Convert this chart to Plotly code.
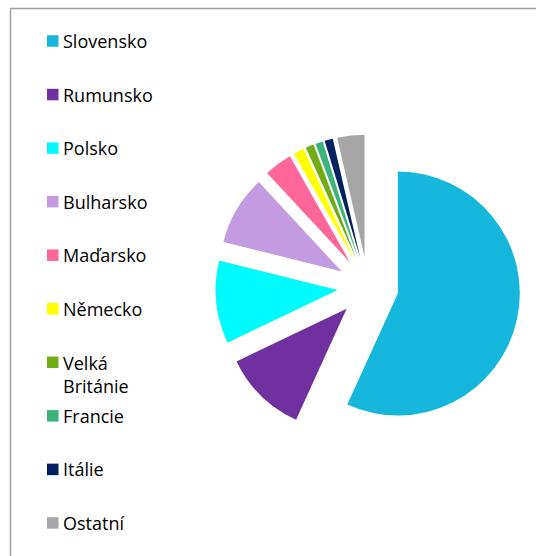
import plotly.graph_objects as go

# ---- data ----
categories = ["Slovensko", "Rumunsko", "Polsko", "Bulharsko", "Maďarsko",
              "Německo", "Velká Británie", "Francie", "Itálie", "Ostatní"]
shares = [56.8, 11.1, 11.0, 9.2, 3.7, 1.4, 1.1, 1.0, 1.1, 3.6]
colors = ["#16b7dd", "#7030a0", "#00fbff", "#c39be0", "#ff6699",
          "#ffff00", "#70ad14", "#3cb37c", "#002060", "#a6a6a6"]

W, H = 536, 556


def px(x):
    return x / W


def py(y):
    return 1 - y / H


# pie geometry (window pixels)
cx, cy, r, pull = 368, 287, 122, 0.25
half = r * (1 + pull)

fig = go.Figure(go.Pie(
    labels=categories,
    values=shares,
    marker=dict(colors=colors, line=dict(width=0)),
    sort=False,
    direction="clockwise",
    rotation=0,
    pull=[pull] * len(categories),
    textinfo="none",
    hoverinfo="label+percent",
    domain=dict(x=[px(cx - half), px(cx + half)], y=[py(cy + half), py(cy - half)]),
    showlegend=False,
))

# manual legend
shapes = []
annotations = []
y0, step = 41, 53.55
for i, (lab, col) in enumerate(zip(categories, colors)):
    yc = y0 + i * step
    shapes.append(dict(type="rect", xref="paper", yref="paper",
                       x0=px(47), x1=px(58.5), y0=py(yc + 5.75), y1=py(yc - 5.75),
                       fillcolor=col, line=dict(width=0)))
    text = lab.replace(" ", "<br>") if len(lab) > 10 else lab
    nlines = text.count("<br>") + 1
    annotations.append(dict(xref="paper", yref="paper", x=px(61), y=py(yc + (nlines - 1) * 12.3),
                            xanchor="left", yanchor="middle", text=text, showarrow=False, align="left",
                            font=dict(family="Open Sans", size=18, color="#000000")))

# chart frame (top & left edges visible)
shapes.append(dict(type="line", xref="paper", yref="paper", x0=px(10), x1=1.0, y0=py(8.5), y1=py(8.5),
                   line=dict(color="#a0a0a0", width=1.5)))
shapes.append(dict(type="line", xref="paper", yref="paper", x0=px(10.5), x1=px(10.5), y0=py(8.5), y1=0.0,
                   line=dict(color="#a0a0a0", width=1.5)))

fig.update_layout(
    width=W, height=H,
    margin=dict(l=0, r=0, t=0, b=0),
    paper_bgcolor="white", plot_bgcolor="white",
    shapes=shapes, annotations=annotations,
    font=dict(family="Open Sans"),
)

fig.write_html("out.html", config={"displayModeBar": False},
               post_script="document.body.style.margin='0';document.body.style.overflow='hidden';")
